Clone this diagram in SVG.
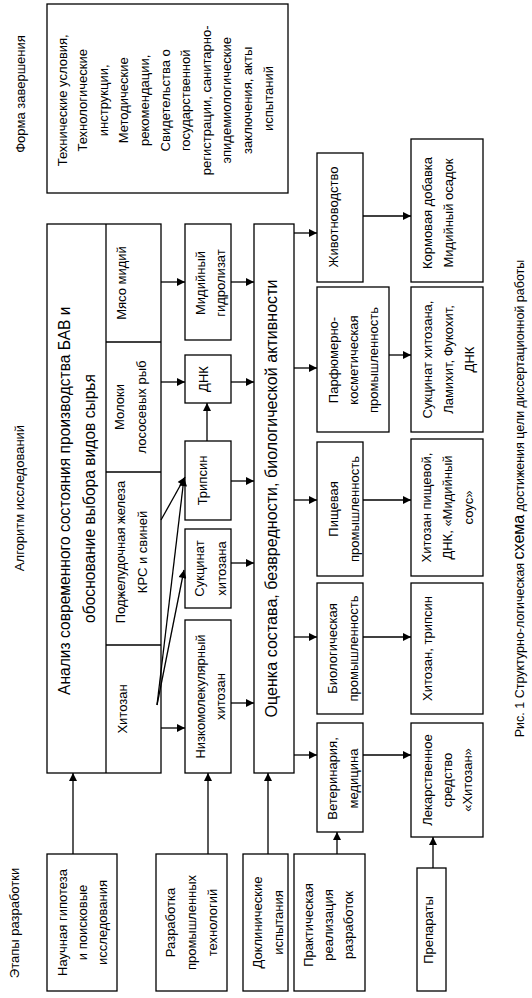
<svg xmlns="http://www.w3.org/2000/svg" width="532" height="998" viewBox="0 0 532 998">
<style>
.b{fill:#fff;stroke:#000;stroke-width:1.3}
.d{stroke:#000;stroke-width:1.3;fill:none}
text{font-family:"Liberation Sans",Arial,sans-serif;fill:#000;text-anchor:middle}
.s{font-size:13px}
.l{font-size:15.6px}
.m{font-size:16.1px}
.c{font-size:12.5px}
#connectors line{stroke:#000;stroke-width:1.3;marker-end:url(#a)}
</style>
<defs>
<marker id="a" viewBox="0 0 10 10" refX="10" refY="5" markerUnits="userSpaceOnUse" markerWidth="9" markerHeight="8" orient="auto">
<path d="M0,0 L10,5 L0,10 z" fill="#000"/>
</marker>
</defs>
<rect width="532" height="998" fill="#fff"/>

<g id="labels">
<text class="s" transform="translate(0,94) rotate(-90)"><tspan x="0" y="24.6">Форма завершения</tspan></text>
<text class="s" transform="translate(0,498) rotate(-90)"><tspan x="0" y="23.6">Алгоритм исследований</tspan></text>
<text class="s" transform="translate(0,923) rotate(-90)"><tspan x="0" y="18.6">Этапы разработки</tspan></text>
<text class="c" transform="translate(0,498.5) rotate(-90)"><tspan x="0" y="524.4">Рис. 1 Структурно-логическая <tspan font-size="16">схема</tspan> достижения цели диссертационной работы</tspan></text>
</g>

<g id="forma">
<rect class="b" x="47" y="4" width="241" height="189"/>
<text class="s" transform="translate(0,98.5) rotate(-90)">
<tspan x="0" y="66.6">Технические условия,</tspan>
<tspan x="0" y="87.2">Технологические</tspan>
<tspan x="0" y="107.8">инструкции,</tspan>
<tspan x="0" y="128.4">Методические</tspan>
<tspan x="0" y="149">рекомендации,</tspan>
<tspan x="0" y="169.6">Свидетельства о</tspan>
<tspan x="0" y="190.2">государственной</tspan>
<tspan x="0" y="210.8">регистрации, санитарно-</tspan>
<tspan x="0" y="231.4">эпидемиологические</tspan>
<tspan x="0" y="252">заключения, акты</tspan>
<tspan x="0" y="272.6">испытаний</tspan>
</text>
</g>

<g id="analiz">
<rect class="b" x="47" y="224" width="114" height="549"/>
<line class="d" x1="106" y1="224" x2="106" y2="773"/>
<line class="d" x1="106" y1="342" x2="161" y2="342"/>
<line class="d" x1="106" y1="472" x2="161" y2="472"/>
<line class="d" x1="106" y1="645" x2="161" y2="645"/>
<text class="l" transform="translate(0,498.5) rotate(-90)">
<tspan x="0" y="69.5">Анализ современного состояния производства БАВ и</tspan>
<tspan x="0" y="94.5">обоснование выбора видов сырья</tspan>
</text>
</g>
<g id="myaso">
<text class="s" transform="translate(0,283) rotate(-90)"><tspan x="0" y="125.6">Мясо мидий</tspan></text>
</g>
<g id="moloki">
<text class="s" transform="translate(0,407) rotate(-90)"><tspan x="0" y="123.6">Молоки</tspan><tspan x="0" y="145.6">лососевых рыб</tspan></text>
</g>
<g id="podzh">
<text class="s" transform="translate(0,552) rotate(-90)"><tspan x="0" y="124.6">Поджелудочная железа</tspan><tspan x="0" y="146.6">КРС и свиней</tspan></text>
</g>
<g id="hitozan">
<text class="s" transform="translate(0,709) rotate(-90)"><tspan x="0" y="126.6">Хитозан</tspan></text>
</g>

<g id="gidrolizat">
<rect class="b" x="185" y="224" width="46" height="116"/>
<text class="s" transform="translate(0,283) rotate(-90)"><tspan x="0" y="204.6">Мидийный</tspan><tspan x="0" y="224.6">гидролизат</tspan></text>
</g>
<g id="dnk">
<rect class="b" x="185" y="355" width="46" height="48"/>
<text class="s" transform="translate(0,379) rotate(-90)"><tspan x="0" y="207.6">ДНК</tspan></text>
</g>
<g id="tripsin">
<rect class="b" x="185" y="441" width="46" height="79"/>
<text class="s" transform="translate(0,480.5) rotate(-90)"><tspan x="0" y="206.6">Трипсин</tspan></text>
</g>
<g id="sukcinat">
<rect class="b" x="185" y="529" width="46" height="79"/>
<text class="s" transform="translate(0,568.5) rotate(-90)"><tspan x="0" y="203.6">Сукцинат</tspan><tspan x="0" y="225.6">хитозана</tspan></text>
</g>
<g id="nizkomol">
<rect class="b" x="185" y="620" width="46" height="153"/>
<text class="s" transform="translate(0,696.5) rotate(-90)"><tspan x="0" y="204.6">Низкомолекулярный</tspan><tspan x="0" y="224.6">хитозан</tspan></text>
</g>

<g id="ocenka">
<rect class="b" x="254" y="224" width="40" height="549"/>
<text class="m" transform="translate(0,498.5) rotate(-90)"><tspan x="0" y="276.5">Оценка состава, безвредности, биологической активности</tspan></text>
</g>

<g id="zhivot">
<rect class="b" x="317" y="153" width="46" height="129"/>
<text class="s" transform="translate(0,217) rotate(-90)"><tspan x="0" y="337.6">Животноводство</tspan></text>
</g>
<g id="parf">
<rect class="b" x="317" y="287" width="72" height="145"/>
<text class="s" transform="translate(0,360) rotate(-90)"><tspan x="0" y="337.6">Парфюмерно-</tspan><tspan x="0" y="357.6">косметическая</tspan><tspan x="0" y="377.6">промышленность</tspan></text>
</g>
<g id="pishch">
<rect class="b" x="317" y="442" width="46" height="134"/>
<text class="s" transform="translate(0,509) rotate(-90)"><tspan x="0" y="337.6">Пищевая</tspan><tspan x="0" y="358.6">промышленность</tspan></text>
</g>
<g id="biol">
<rect class="b" x="317" y="583" width="46" height="131"/>
<text class="s" transform="translate(0,648.5) rotate(-90)"><tspan x="0" y="336.6">Биологическая</tspan><tspan x="0" y="357.6">промышленность</tspan></text>
</g>
<g id="veter">
<rect class="b" x="317" y="723" width="46" height="109"/>
<text class="s" transform="translate(0,778.5) rotate(-90)"><tspan x="0" y="336.6">Ветеринария,</tspan><tspan x="0" y="357.6">медицина</tspan></text>
</g>

<g id="korm">
<rect class="b" x="411" y="139" width="72" height="143"/>
<text class="s" transform="translate(0,213) rotate(-90)"><tspan x="0" y="431.6">Кормовая добавка</tspan><tspan x="0" y="452.6">Мидийный осадок</tspan></text>
</g>
<g id="sukc2">
<rect class="b" x="411" y="287" width="72" height="145"/>
<text class="s" transform="translate(0,359.5) rotate(-90)"><tspan x="0" y="431.6">Сукцинат хитозана,</tspan><tspan x="0" y="452.6">Ламихит, Фукохит,</tspan><tspan x="0" y="473.6">ДНК</tspan></text>
</g>
<g id="hitpish">
<rect class="b" x="411" y="439" width="72" height="137"/>
<text class="s" transform="translate(0,507.5) rotate(-90)"><tspan x="0" y="430.6">Хитозан пищевой,</tspan><tspan x="0" y="451.6">ДНК, «Мидийный</tspan><tspan x="0" y="472.6">соус»</tspan></text>
</g>
<g id="hittrip">
<rect class="b" x="411" y="583" width="72" height="131"/>
<text class="s" transform="translate(0,648.5) rotate(-90)"><tspan x="0" y="431.6">Хитозан, трипсин</tspan></text>
</g>
<g id="lekar">
<rect class="b" x="411" y="723" width="72" height="114"/>
<text class="s" transform="translate(0,780) rotate(-90)"><tspan x="0" y="431.6">Лекарственное</tspan><tspan x="0" y="451.6">средство</tspan><tspan x="0" y="471.6">«Хитозан»</tspan></text>
</g>

<g id="nauchn">
<rect class="b" x="47" y="854" width="70" height="137"/>
<text class="s" transform="translate(0,922.5) rotate(-90)"><tspan x="0" y="66.6">Научная гипотеза</tspan><tspan x="0" y="86.6">и поисковые</tspan><tspan x="0" y="106.6">исследования</tspan></text>
</g>
<g id="razrab">
<rect class="b" x="156" y="854" width="71" height="137"/>
<text class="s" transform="translate(0,922.5) rotate(-90)"><tspan x="0" y="174.6">Разработка</tspan><tspan x="0" y="195.6">промышленных</tspan><tspan x="0" y="216.6">технологий</tspan></text>
</g>
<g id="doklin">
<rect class="b" x="243" y="854" width="45" height="137"/>
<text class="s" transform="translate(0,922.5) rotate(-90)"><tspan x="0" y="261.6">Доклинические</tspan><tspan x="0" y="282.6">испытания</tspan></text>
</g>
<g id="prakt">
<rect class="b" x="294" y="854" width="71" height="137"/>
<text class="s" transform="translate(0,925) rotate(-90)"><tspan x="0" y="312.6">Практическая</tspan><tspan x="0" y="332.6">реализация</tspan><tspan x="0" y="352.6">разработок</tspan></text>
</g>
<g id="prep">
<rect class="b" x="417" y="868" width="29" height="123"/>
<text class="s" transform="translate(0,930) rotate(-90)"><tspan x="0" y="432.6">Препараты</tspan></text>
</g>

<g id="connectors">
<line x1="73" y1="854" x2="73" y2="773"/>
<line x1="208" y1="854" x2="208" y2="773"/>
<line x1="268" y1="854" x2="268" y2="773"/>
<line x1="337" y1="854" x2="337" y2="832"/>
<line x1="433" y1="868" x2="433" y2="837"/>
<line x1="161" y1="282" x2="185" y2="282"/>
<line x1="231" y1="282" x2="254" y2="282"/>
<line x1="161" y1="382" x2="185" y2="382"/>
<line x1="231" y1="382" x2="254" y2="382"/>
<line x1="207" y1="441" x2="207" y2="403"/>
<line x1="231" y1="481" x2="254" y2="481"/>
<line x1="231" y1="563" x2="254" y2="563"/>
<line x1="231" y1="703" x2="254" y2="703"/>
<line x1="161" y1="728" x2="185" y2="728"/>
<line x1="161" y1="520" x2="185" y2="477"/>
<line x1="157" y1="705" x2="184" y2="478"/>
<line x1="157" y1="705" x2="184" y2="570"/>
<line x1="294" y1="233" x2="317" y2="233"/>
<line x1="294" y1="368" x2="317" y2="368"/>
<line x1="294" y1="500" x2="317" y2="500"/>
<line x1="294" y1="637" x2="317" y2="637"/>
<line x1="294" y1="755" x2="317" y2="755"/>
<line x1="363" y1="216" x2="411" y2="216"/>
<line x1="389" y1="355" x2="411" y2="355"/>
<line x1="363" y1="500" x2="411" y2="500"/>
<line x1="363" y1="637" x2="411" y2="637"/>
<line x1="363" y1="755" x2="411" y2="755"/>
</g>
</svg>
